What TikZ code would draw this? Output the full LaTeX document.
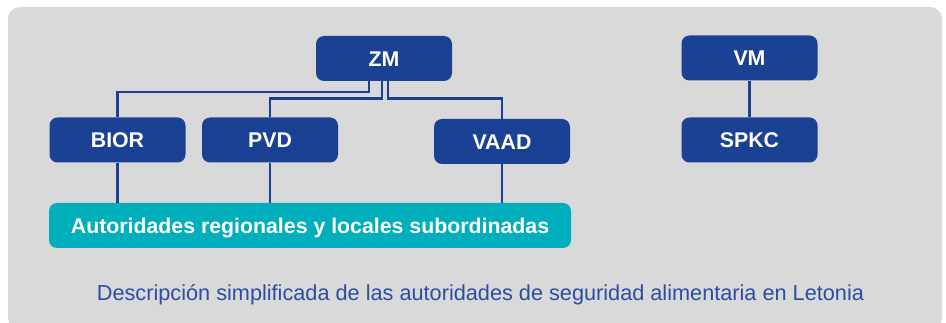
\documentclass[tikz,border=0pt]{standalone}
\usepackage{fontspec}
\setmainfont{Liberation Sans}

\definecolor{panelgray}{HTML}{D9D9D9}
\definecolor{agencyblue}{HTML}{1B4194}
\definecolor{localteal}{HTML}{00AEBC}
\definecolor{captionblue}{HTML}{2B4DA2}

\begin{document}
\begin{tikzpicture}[x=1pt,y=-1pt]

\tikzset{agency/.style={fill=agencyblue, rounded corners=8pt, text=white,
    font=\fontsize{21.3}{21.3}\selectfont\bfseries, minimum width=136pt, minimum height=45pt,
    inner sep=0pt, text height=15.2pt, text depth=0pt},
  local/.style={agency, fill=localteal, minimum width=522pt},
  link/.style={draw=agencyblue, line width=2.6pt}}

\useasboundingbox (0,0) rectangle (946,323);

%% Panel
\fill[panelgray, rounded corners=12pt] (8,7) rectangle (942,330);

%% Ministries
\node[agency] (zm) at (384,58.5) {ZM};
\node[agency] (vm) at (749.5,58) {VM};

%% Agencies
\node[agency] (bior) at (117.5,140) {BIOR};
\node[agency] (pvd) at (270,140) {PVD};
\node[agency] (vaad) at (502,141.5) {VAAD};
\node[agency] (spkc) at (749.5,140) {SPKC};

%% Local authorities
\node[local] (regional) at (310,225.5) {Autoridades regionales y locales subordinadas};

%% Links
\draw[link] ([xshift=-15pt]zm.south) -- ++(0,11) -| (bior.north);
\draw[link] ([xshift=-2pt]zm.south) -- ++(0,17.5) -| (pvd.north);
\draw[link] ([xshift=4pt]zm.south) -- ++(0,17.5) -| (vaad.north);
\draw[link] (vm) -- (spkc);

\draw[link] (bior) -- (bior |- regional.north);
\draw[link] (pvd) -- (pvd |- regional.north);
\draw[link] (vaad) -- (vaad |- regional.north);

%% Caption
\node[anchor=base, text=captionblue, font=\fontsize{21.7}{21.7}\selectfont, inner sep=0pt] (caption)
  at (480.5,301) {Descripción simplificada de las autoridades de seguridad alimentaria en Letonia};

\end{tikzpicture}
\end{document}
